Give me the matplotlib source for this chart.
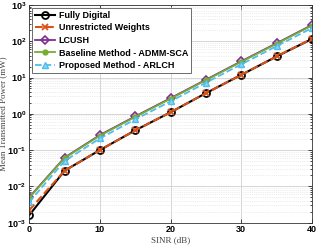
import matplotlib
matplotlib.use("Agg")
import matplotlib.pyplot as plt

# Data
sinr_db = [0, 5, 10, 15, 20, 25, 30, 35, 40]
fully_digital = [0.0016, 0.027, 0.10, 0.35, 1.1, 3.7, 11.8, 38, 115]
unrestricted = [0.0022, 0.027, 0.10, 0.35, 1.1, 3.7, 11.8, 38, 117]
lcush = [0.0050, 0.062, 0.26, 0.85, 2.7, 8.7, 28, 88, 280]
baseline = [0.0048, 0.060, 0.25, 0.82, 2.6, 8.4, 27, 85, 270]
proposed = [0.0037, 0.050, 0.21, 0.70, 2.2, 7.2, 23, 73, 230]

plt.rcParams['font.family'] = ['Liberation Sans', 'DejaVu Sans']
plt.rcParams['mathtext.fontset'] = 'custom'
plt.rcParams['mathtext.rm'] = 'Liberation Sans:bold'
plt.rcParams['mathtext.bf'] = 'Liberation Sans:bold'

fig = plt.figure(figsize=(3.17, 2.45), dpi=100)
ax = fig.add_axes([0.092, 0.091, 0.892, 0.889])

ax.plot(sinr_db, fully_digital, '-o', color='black', lw=1.5, ms=5,
        mfc='none', mew=1.3, label='Fully Digital')
ax.plot(sinr_db, unrestricted, '--x', color='#D95319', lw=1.5, ms=5,
        mew=1.3, label='Unrestricted Weights')
ax.plot(sinr_db, lcush, '-D', color='#7E2F8E', lw=1.3, ms=4,
        mfc='none', mew=1.2, label='LCUSH')
ax.plot(sinr_db, baseline, '-o', color='#77AC30', lw=1.3, ms=3.5,
        label='Baseline Method - ADMM-SCA')
ax.plot(sinr_db, proposed, '--^', color='#4DBEEE', lw=1.3, ms=5,
        mfc='#8FD3F0', mew=1.0, label='Proposed Method - ARLCH')

ax.set_yscale('log')
ax.set_xlim(0, 40)
ax.set_ylim(1e-3, 1e3)
ax.set_xticks([0, 10, 20, 30, 40])
ax.set_yticks([1e-3, 1e-2, 1e-1, 1e0, 1e1, 1e2, 1e3])

ax.grid(True, which='major', color='#cfcfcf', lw=0.6)
ax.grid(True, which='minor', axis='y', color='#dcdcdc', lw=0.5, ls=':')
ax.set_axisbelow(True)

ax.tick_params(which='both', direction='in', top=True, right=True,
               labelsize=6.5, width=0.5, pad=2)
ax.tick_params(which='major', length=3)
ax.tick_params(which='minor', length=1.5)
for lbl in ax.get_xticklabels() + ax.get_yticklabels():
    lbl.set_fontweight('bold')
for s in ax.spines.values():
    s.set_linewidth(0.6)
    s.set_color('#333333')

ax.set_xlabel('SINR (dB)', family='Liberation Serif', fontsize=6.5,
              color='#444444', labelpad=1)
ax.set_ylabel('Mean Transmitted Power (mW)', family='Liberation Serif',
              fontsize=6.5, color='#444444', labelpad=0)

leg = ax.legend(loc='upper left', prop={'size': 6.5, 'weight': 'bold'},
                fancybox=False, framealpha=1, edgecolor='#555555',
                borderaxespad=0.3, handlelength=2.2, handletextpad=0.4,
                labelspacing=0.4, borderpad=0.35)
leg.get_frame().set_linewidth(0.6)

fig.savefig('out.png', dpi=100)
